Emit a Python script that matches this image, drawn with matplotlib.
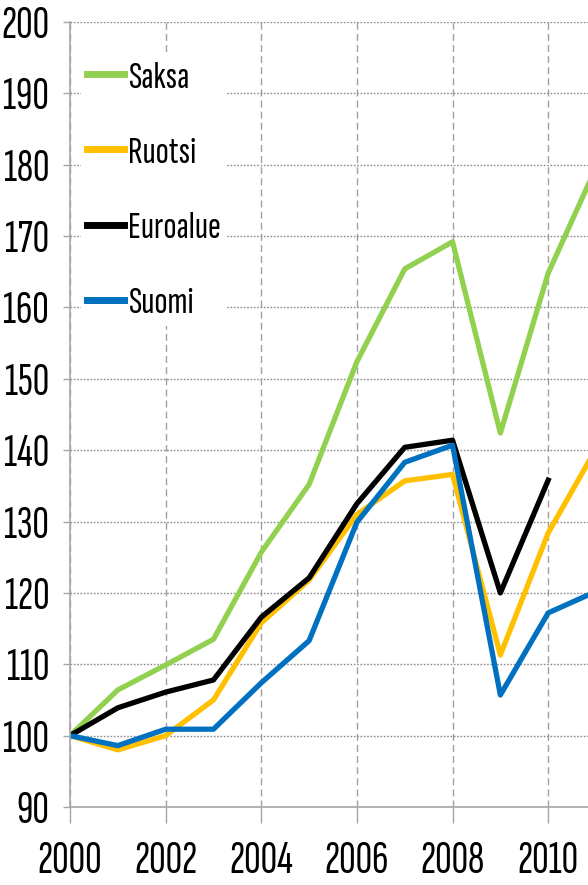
import matplotlib
matplotlib.use("Agg")
import matplotlib.pyplot as plt

# === Data (index, 2000 = 100) ===
years = [2000, 2001, 2002, 2003, 2004, 2005, 2006, 2007, 2008, 2009, 2010, 2011]
saksa = [100, 106.4, 109.9, 113.5, 125.7, 135.2, 152.4, 165.4, 169.2, 142.4, 164.8, 179.6]
ruotsi = [100, 98.0, 100.0, 105.0, 115.8, 121.8, 131.0, 135.7, 136.6, 111.3, 128.4, 140.2]
euroalue = [100, 103.9, 106.1, 107.8, 116.6, 122.1, 132.5, 140.4, 141.4, 120.0, 135.8]
suomi = [100, 98.6, 100.9, 100.9, 107.4, 113.3, 129.9, 138.3, 140.7, 105.7, 117.2, 120.2]

yticks = list(range(90, 201, 10))
xticks = [2000, 2002, 2004, 2006, 2008, 2010]

plt.rcParams["font.family"] = ["Sofia Sans Extra Condensed", "DejaVu Sans"]
plt.rcParams["font.weight"] = "light"

fig = plt.figure(figsize=(5.88, 8.85), dpi=100)
# axes runs past the right edge of the figure (chart is cropped there)
ax = fig.add_axes([70 / 588, 78 / 885, 526 / 588, 785 / 885])

ax.plot(years, saksa, color="#92D050", lw=3.8, label="Saksa")
ax.plot(years, ruotsi, color="#FFC000", lw=3.8, label="Ruotsi")
ax.plot(years[:len(euroalue)], euroalue, color="black", lw=3.8, label="Euroalue")
ax.plot(years, suomi, color="#0070C0", lw=3.8, label="Suomi")

ax.set_xlim(2000, 2011)
ax.set_ylim(90, 200)
ax.set_xticks(xticks)
ax.set_yticks(yticks)

ax.yaxis.grid(True, linestyle=(0, (1.2, 1.2)), color="#8c8c8c", lw=1.0)
ax.xaxis.grid(True, linestyle=(0, (5, 3)), color="#a0a0a0", lw=1.0)
ax.set_axisbelow(True)

for s in ["top", "right"]:
    ax.spines[s].set_visible(False)
for s in ["left", "bottom"]:
    ax.spines[s].set_color("#a6a6a6")
    ax.spines[s].set_linewidth(1.2)

ax.tick_params(axis="y", direction="out", length=5, width=1, color="#a6a6a6",
               labelsize=33, pad=10)
ax.tick_params(axis="x", direction="out", length=11.5, width=1, color="#a6a6a6",
               labelsize=33, pad=13)

leg = ax.legend(loc="upper left", bbox_to_anchor=(81 / 588, 1 - 55 / 885),
                bbox_transform=fig.transFigure, fontsize=28,
                frameon=True, facecolor="white", edgecolor="none", framealpha=1,
                handlelength=0.95, handletextpad=0.1, labelspacing=1.05,
                borderpad=0.15, borderaxespad=0, fancybox=False)
for line in leg.get_lines():
    line.set_linewidth(5)

fig.savefig("out.png", dpi=100)
